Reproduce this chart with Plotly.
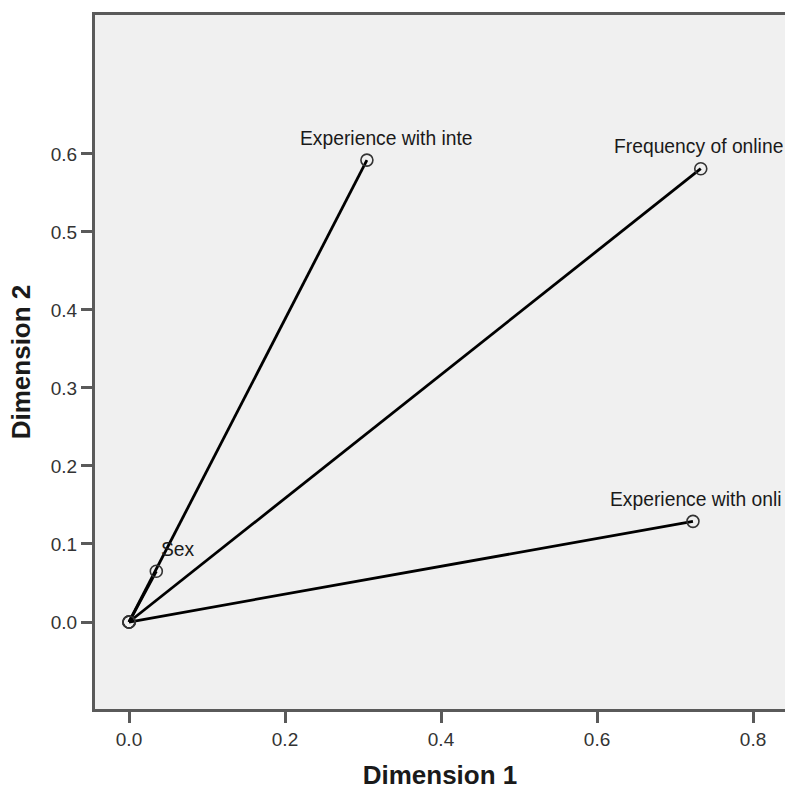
import plotly.graph_objects as go

variables = ["Experience with inte", "Frequency of online", "Experience with onli", "Sex"]
dim1 = [0.305, 0.733, 0.723, 0.035]
dim2 = [0.592, 0.581, 0.129, 0.065]
label_dx = [-69, -89, -85, 3]

x_ticks = [0.0, 0.2, 0.4, 0.6, 0.8]
y_ticks = [0.0, 0.1, 0.2, 0.3, 0.4, 0.5, 0.6]

fig = go.Figure()
for name, x, y in zip(variables, dim1, dim2):
    fig.add_trace(go.Scatter(
        x=[0, x], y=[0, y], mode="lines+markers",
        line=dict(color="black", width=2.8),
        marker=dict(symbol="circle-open", size=12, color="#333333",
                    line=dict(width=1.6, color="#333333")),
        showlegend=False, hoverinfo="skip", cliponaxis=False,
    ))

for name, x, y, dx in zip(variables, dim1, dim2, label_dx):
    fig.add_annotation(x=x, y=y, text=name, showarrow=False,
                       xanchor="left", yanchor="middle", xshift=dx, yshift=22,
                       font=dict(family="Liberation Sans, Arial", size=19.3, color="#1a1a1a"))

axis_common = dict(
    showline=True, linecolor="#5a5a5a", linewidth=3,
    ticks="outside", tickcolor="#5a5a5a", tickwidth=2.5, ticklen=11,
    showgrid=False, zeroline=False,
    tickfont=dict(family="Liberation Sans, Arial", size=19, color="#333333"),
    title_font=dict(family="Liberation Sans, Arial", size=26, color="#1a1a1a"),
)

fig.update_xaxes(range=[-0.0436, 0.841], tickvals=x_ticks,
                 ticktext=[f"{v:.1f}" for v in x_ticks], mirror=True,
                 title_text="<b>Dimension 1</b>", title_standoff=21, **axis_common)
fig.update_yaxes(range=[-0.1115, 0.778], tickvals=y_ticks,
                 ticktext=[f"{v:.1f}" for v in y_ticks],
                 title_text="<b>Dimension 2</b>", title_standoff=13, **axis_common)

fig.update_layout(
    width=785, height=790,
    margin=dict(l=95, r=0, t=15, b=81),
    plot_bgcolor="#f0f0f0", paper_bgcolor="white",
)

fig.write_html("out.html", config={"displayModeBar": False},
               post_script="document.body.style.margin='0';document.body.style.overflow='hidden';")
